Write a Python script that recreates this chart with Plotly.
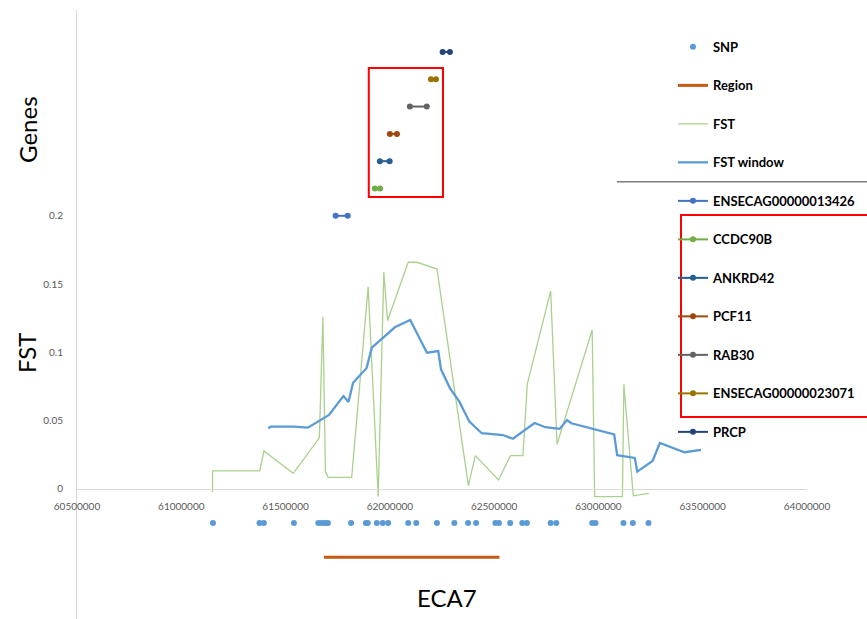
import plotly.graph_objects as go

# ---- data ----
snp_pos = [61152000, 61375000, 61396000, 61540000, 61657000, 61673000, 61689000, 61703000,
           61814000, 61885000, 61894000, 61937500, 61966000, 61992000, 62088000, 62126500,
           62226000, 62309000, 62375000, 62413500, 62506000, 62523000, 62577000, 62635000,
           62657000, 62771000, 62798000, 62970000, 62986000, 63120000, 63165000, 63240000]
snp_level = -0.025

region_pos = [61684000, 62525500]
region_level = -0.05

fst_pos = [61150000, 61150000, 61376000, 61396000, 61537000, 61662000, 61679000, 61691000,
           61704000, 61817000, 61896000, 61944000, 61971000, 61989000, 62088000, 62130000,
           62226000, 62376500, 62410000, 62521000, 62578000, 62638000, 62659000, 62771000,
           62801500, 62970000, 62982000, 63115000, 63122000, 63167000, 63242000]
fst_val = [-0.0024, 0.0132, 0.0132, 0.0278, 0.0115, 0.0375, 0.126, 0.0127,
           0.0085, 0.0086, 0.148, -0.0056, 0.1586, 0.1232, 0.166, 0.166,
           0.161, 0.0024, 0.0244, 0.0066, 0.0244, 0.0244, 0.077, 0.145,
           0.0327, 0.1164, -0.0056, -0.0056, 0.0766, -0.005, -0.0032]

win_pos = [61416800, 61427900, 61539900, 61607200, 61708200, 61777400, 61801500, 61823600,
           61888000, 61913500, 62024000, 62097600, 62177900, 62232200, 62245200, 62288400,
           62333200, 62381200, 62440800, 62485500, 62541800, 62589900, 62693700, 62745200,
           62813900, 62849500, 62870200, 63075500, 63089900, 63174500, 63186100, 63259600,
           63294700, 63412000, 63491800]
win_val = [0.0444, 0.0456, 0.0456, 0.0449, 0.0542, 0.068, 0.0637, 0.0778,
           0.0884, 0.1035, 0.1184, 0.1237, 0.0998, 0.101, 0.0876, 0.0737,
           0.0639, 0.0493, 0.0408, 0.0403, 0.0395, 0.0368, 0.0483, 0.0452,
           0.044, 0.0505, 0.0481, 0.04, 0.0247, 0.0227, 0.0127, 0.0205,
           0.0337, 0.0269, 0.0286]

gene_names = ["ENSECAG00000013426", "CCDC90B", "ANKRD42", "PCF11", "RAB30",
              "ENSECAG00000023071", "PRCP"]
gene_start = [61740000, 61928000, 61952000, 62000000, 62096000, 62197000, 62253000]
gene_end = [61798000, 61953000, 61999000, 62034000, 62177000, 62221000, 62288000]
gene_level = [0.20, 0.22, 0.24, 0.26, 0.28, 0.30, 0.32]
gene_colors = ["#4472C4", "#70AD47", "#255E91", "#9E480E", "#636363", "#997300", "#264478"]

FONT = "Lato"

fig = go.Figure()

fig.add_trace(go.Scatter(x=snp_pos, y=[snp_level] * len(snp_pos), mode="markers", name="SNP",
                         marker=dict(color="#5B9BD5", size=6), legendgroup="a"))
fig.add_trace(go.Scatter(x=region_pos, y=[region_level] * 2, mode="lines", name="Region",
                         line=dict(color="#C55A11", width=3), legendgroup="b"))
fig.add_trace(go.Scatter(x=fst_pos, y=fst_val, mode="lines", name="FST",
                         line=dict(color="#A9D18E", width=1.3), legendgroup="c"))
fig.add_trace(go.Scatter(x=win_pos, y=win_val, mode="lines", name="FST window",
                         line=dict(color="#5B9BD5", width=2.3), legendgroup="d"))
for i, g in enumerate(gene_names):
    fig.add_trace(go.Scatter(x=[gene_start[i], gene_end[i]], y=[gene_level[i]] * 2,
                             mode="lines+markers", name=g, legendgroup="g%d" % i,
                             line=dict(color=gene_colors[i], width=2),
                             marker=dict(color=gene_colors[i], size=6)))

# red highlight boxes and separator
fig.add_shape(type="rect", xref="x", yref="y", x0=61899000, x1=62254800, y0=0.2138, y1=0.3082,
              line=dict(color="#FF0000", width=2))
fig.add_shape(type="rect", xref="paper", yref="paper", x0=0.8274, x1=1.09, y0=0.3317, y1=0.6634,
              line=dict(color="#FF0000", width=2))
fig.add_shape(type="line", xref="paper", yref="paper", x0=0.7397, x1=1.09, y0=0.718, y1=0.718,
              line=dict(color="#7F7F7F", width=1.5))

# axis titles as text
fig.add_annotation(text="Genes", xref="paper", yref="paper", x=-0.0671, y=0.803, textangle=-90,
                   xanchor="center", yanchor="middle",
                   showarrow=False, font=dict(family=FONT, size=24, color="#000000"))
fig.add_annotation(text="FST", xref="paper", yref="paper", x=-0.0685, y=0.4368, textangle=-90,
                   xanchor="center", yanchor="middle",
                   showarrow=False, font=dict(family=FONT, size=24, color="#000000"))
fig.add_annotation(text="ECA7", xref="paper", yref="paper", x=0.5068, y=0.036,
                   xanchor="center", yanchor="middle",
                   showarrow=False, font=dict(family=FONT, size=24, color="#000000"))

fig.update_layout(
    width=867, height=619,
    margin=dict(l=77, r=60, t=10, b=0),
    paper_bgcolor="white", plot_bgcolor="white",
    font=dict(family=FONT),
    showlegend=True,
    legend=dict(x=0.8164, y=0.964, xanchor="left", yanchor="top",
                bgcolor="rgba(0,0,0,0)", tracegroupgap=18.6,
                font=dict(family=FONT, size=13, color="#000000", weight="bold")),
    xaxis=dict(range=[60500000, 64000000], tick0=60500000, dtick=500000, tickformat="d",
               showgrid=False, zeroline=False, showline=True, linecolor="#D9D9D9",
               anchor="free", position=0.2135, ticks="", ticklabelstandoff=8,
               tickfont=dict(family=FONT, size=10, color="#595959")),
    yaxis=dict(range=[-0.0952, 0.3507], tickvals=[0, 0.05, 0.1, 0.15, 0.2],
               ticktext=["0", "0.05", "0.1", "0.15", "0.2"],
               showgrid=False, zeroline=False, showline=True, linecolor="#D9D9D9",
               ticks="", ticklabelstandoff=11,
               tickfont=dict(family=FONT, size=10, color="#595959")),
)

fig.write_html("out.html")
